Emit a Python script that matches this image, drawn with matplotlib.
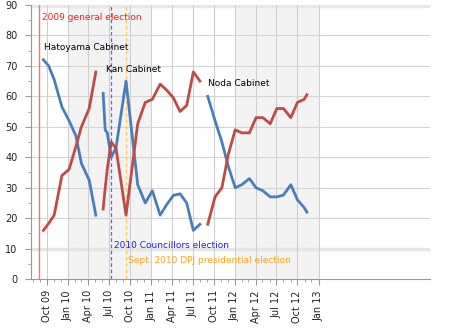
import matplotlib
matplotlib.use("Agg")
import matplotlib.pyplot as plt
import matplotlib.dates as mdates
import pandas as pd

# poll dates and values for each cabinet (blue = support, red = non-support)
hatoyama_dates = ["2009-09-17", "2009-10-10", "2009-11-03", "2009-12-07", "2010-01-07",
                  "2010-02-06", "2010-03-02", "2010-04-05", "2010-05-04"]
hatoyama_support = [72, 70, 65.5, 56.5, 52, 47, 38, 32.5, 21]
hatoyama_against = [16, 18.3, 21, 34, 36, 43.5, 50, 56, 68]

kan_dates = ["2010-06-05", "2010-06-14", "2010-06-23", "2010-07-10", "2010-07-31",
             "2010-09-13", "2010-11-03", "2010-12-06", "2011-01-06", "2011-02-09",
             "2011-03-10", "2011-04-08", "2011-05-07", "2011-06-05", "2011-07-04",
             "2011-08-02"]
kan_support = [61, 49, 48, 40, 43, 65, 31, 25, 29, 21, 24.5, 27.5, 28, 25, 16, 18]
kan_against = [23, 30, 36, 45, 43, 21, 51, 58, 59, 64, 62, 59.5, 55, 57, 68, 65]

noda_dates = ["2011-09-05", "2011-10-07", "2011-11-06", "2011-12-04", "2012-01-03",
              "2012-02-01", "2012-03-05", "2012-04-03", "2012-05-03", "2012-06-04",
              "2012-07-03", "2012-08-01", "2012-09-02", "2012-10-01", "2012-10-30",
              "2012-11-11"]
noda_support = [60, 52, 45, 37, 30, 31, 33, 30, 29, 27, 27, 27.6, 31, 26, 23.5, 22]
noda_against = [18, 27, 30, 41, 49, 48, 48, 53, 53, 51, 56, 56, 53, 58, 59, 60.5]

blue = "#4a7ebb"
red = "#be4b48"

fig = plt.figure(figsize=(4.5, 3.28), dpi=100)
ax = fig.add_axes([0.069, 0.149, 0.887, 0.836])

# shaded years
for start, end in [("2010-01-01", "2011-01-01"), ("2012-01-01", "2013-01-01")]:
    ax.axvspan(pd.Timestamp(start), pd.Timestamp(end), color="#f3f3f3", zorder=0, lw=0)

# grid
for v in range(10, 90, 10):
    if v == 10:
        ax.axhline(v, color="#e6e6e6", lw=2.5, zorder=1)
    else:
        ax.axhline(v, color="#d4d4d4", lw=0.8, zorder=1)
ax.axhline(89.6, color="#e8e8e8", lw=2.5, zorder=1)

quarters = pd.date_range("2009-10-01", "2013-01-01", freq="QS")
for q in quarters:
    ax.axvline(q, color="#cfcfcf", lw=0.8, zorder=1)

# events
ax.axvline(pd.Timestamp("2009-08-30"), color="#ff7070", lw=1, zorder=2)
ax.axvline(pd.Timestamp("2010-07-11"), color="#6060ff", lw=0.9, ls=(0, (3, 2)), zorder=2)
ax.axvline(pd.Timestamp("2010-09-14"), color="#ffc860", lw=0.9, ls=(0, (3, 2)), zorder=2)

for dates, sup, ag in [(hatoyama_dates, hatoyama_support, hatoyama_against),
                       (kan_dates, kan_support, kan_against),
                       (noda_dates, noda_support, noda_against)]:
    d = pd.to_datetime(dates)
    ax.plot(d, sup, color=blue, lw=2, zorder=3)
    ax.plot(d, ag, color=red, lw=2, zorder=3)

fs = 6.5
ax.text(pd.Timestamp("2009-09-11"), 85.9, "2009 general election", color="#ff1a1a",
        fontsize=fs, va="center")
ax.text(pd.Timestamp("2009-09-20"), 76, "Hatoyama Cabinet", color="black", fontsize=fs, va="center")
ax.text(pd.Timestamp("2010-06-17"), 68.8, "Kan Cabinet", color="black", fontsize=fs, va="center")
ax.text(pd.Timestamp("2011-09-06"), 64.1, "Noda Cabinet", color="black", fontsize=fs, va="center")
ax.text(pd.Timestamp("2010-07-22"), 11.2, "2010 Councillors election", color="#1a1aff",
        fontsize=fs, va="center")
ax.text(pd.Timestamp("2010-09-21"), 6.25, "Sept. 2010 DPJ presidential election", color="#ffa31a",
        fontsize=fs, va="center")

ax.set_ylim(0, 90)
ax.set_xlim(pd.Timestamp("2009-07-25"), pd.Timestamp("2014-05-04"))

ax.set_yticks(range(0, 91, 10))
ax.set_yticks(range(5, 90, 10), minor=True)
ax.set_xticks(quarters)
ax.set_xticks(pd.date_range("2009-08-01", "2013-01-01", freq="MS"), minor=True)
ax.xaxis.set_major_formatter(mdates.DateFormatter("%b %y"))
plt.setp(ax.get_xticklabels(), rotation=90)

ax.tick_params(axis="both", which="major", color="#999999", labelsize=7, labelcolor="#222222")
ax.tick_params(axis="y", which="major", length=4.3, pad=5.5)
ax.tick_params(axis="y", which="minor", length=2.2, color="#999999")
ax.tick_params(axis="x", which="major", length=4, pad=4)
ax.tick_params(axis="x", which="minor", length=2.5, color="#999999")

for s in ["top", "right"]:
    ax.spines[s].set_visible(False)
for s in ["left", "bottom"]:
    ax.spines[s].set_color("#999999")
    ax.spines[s].set_linewidth(0.8)

fig.savefig("out.png", dpi=100)
